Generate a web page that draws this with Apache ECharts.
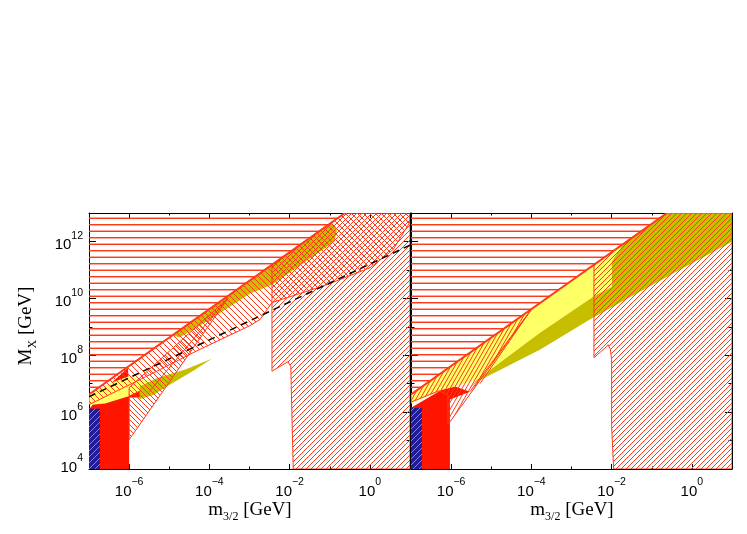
<!DOCTYPE html>
<html>
<head>
<meta charset="utf-8">
<script src="https://cdn.jsdelivr.net/npm/echarts@6/dist/echarts.min.js"></script>
<style>
html, body { margin: 0; padding: 0; background: #fff; }
#chart { width: 747px; height: 534px; }
</style>
</head>
<body>
<div id="chart"></div>
<script>
// 刻度 (log10)
const xMajor = [-6, -4, -2, 0];
const xMinor = [-5, -3, -1];
const yMajor = [4, 6, 8, 10, 12];
const yMinor = [5, 7, 9, 11];

// 两图共用的上边界线 (log10 m32, log10 MX)
const upperLine = [[-7, 6.62], [-0.62, 13]];

// 左图
const leftHoriz = [[-7, 13], [-0.62, 13], [-7, 6.62]];
const leftBand = [[-7, 6.62], [-0.62, 13], [1, 13], [1, 12.69], [0.58, 11.71], [0.01, 11.08], [-1.07, 10.48],
    [-2.44, 9.85], [-2.74, 9.25], [-2.99, 9.04], [-4.36, 8.12], [-5.49, 7.31], [-7, 6.26]];
const leftTri = [[-6.0, 5.03], [-6.0, 6.86], [-3.54, 10.0]];
const leftBig = [[-2.44, 11.18], [-0.62, 13], [1, 13], [1, 4], [-1.91, 4], [-1.96, 6.93], [-1.97, 7.6],
    [-2.01, 7.7], [-2.04, 7.77], [-2.44, 7.44]];
const leftOliveStrip = [[-4.92, 8.70], [-0.95, 12.67], [-0.82, 12.4], [-0.88, 12.0], [-1.74, 11.15],
    [-2.44, 10.48], [-2.99, 10.16], [-3.99, 9.25], [-4.74, 8.62]];
const leftLeaf = [[-5.74, 6.45], [-5.74, 6.9], [-5.3, 7.2], [-4.6, 7.5], [-3.94, 7.88], [-4.4, 7.45], [-5.0, 6.95], [-5.4, 6.6]];
const leftYellow = [[-7, 6.25], [-7, 6.62], [-6.5, 7.0], [-6.03, 7.25], [-5.5, 7.1], [-5.74, 6.75], [-6.03, 6.55], [-6.6, 6.3]];
const leftRed = [[-7, 4], [-7, 6.1], [-6.5, 6.95], [-6.03, 7.55], [-6.0, 6.86], [-5.74, 6.86], [-5.5, 6.72],
    [-5.74, 6.51], [-6.0, 6.51], [-6.0, 4]];
const leftBlue = [[-7, 4], [-7, 6.12], [-6.73, 6.12], [-6.73, 4]];
const leftDash = [[-7, 6.54], [1, 11.87]];
const leftFan = [[-3.54, 10.0], [-5.5, 6.72]];

// 右图
const rightHoriz = [[-7, 13], [-0.62, 13], [-7, 6.62]];
const rightRed = [[-7, 4], [-7, 6.15], [-6.23, 6.79], [-5.9, 6.9], [-5.53, 6.72], [-6.03, 6.44], [-6.03, 4]];
const rightBlue = [[-7, 4], [-7, 6.15], [-6.73, 6.15], [-6.73, 4]];
const rightYellow = [[-7, 6.3], [-7, 6.62], [-2.42, 11.2], [-2.42, 10.1], [-3.79, 8.79], [-5.36, 7.14], [-5.9, 6.9], [-6.23, 6.79]];
const rightOlive = [[-5.53, 6.85], [-5.36, 7.14], [-3.79, 8.79], [-2.42, 10.1], [-2.0, 10.4], [-2.0, 11.3], [-1.7, 11.92],
    [-0.62, 13], [1, 13], [1, 11.99], [-0.38, 10.94], [-2.47, 9.32], [-3.79, 8.19], [-5.36, 7.07]];
const rightYellowPatch = [[-2.42, 11.2], [-1.7, 11.92], [-2.0, 11.3], [-2.0, 10.4], [-2.42, 10.1]];
const rightTri = [[-7, 6.35], [-7, 6.62], [-3.99, 9.63], [-6.08, 5.56], [-6.08, 6.6], [-6.3, 6.75]];
const rightFanA = [[-3.99, 9.63], [-5.53, 6.72]];
const rightFanB = [[-3.99, 9.63], [-5.28, 7.0]];
const rightBig = [[-2.44, 11.18], [-0.62, 13], [1, 13], [1, 4], [-1.95, 4], [-2.0, 5.5], [-2.0, 7.84],
    [-2.03, 8.2], [-2.09, 8.37], [-2.13, 8.3], [-2.44, 7.91]];

const RED = '#ff3a1a';

// 斜线填充
function makeHatch(w, h, dir, color, lw, bg) {
    let c = document.createElement('canvas');
    c.width = w;
    c.height = h;
    let ctx = c.getContext('2d');
    if (bg) {
        ctx.fillStyle = bg;
        ctx.fillRect(0, 0, w, h);
    }
    ctx.strokeStyle = color;
    ctx.lineWidth = lw;
    ctx.beginPath();
    for (let k = -1; k <= 1; k++) {
        if (dir === '/') {
            ctx.moveTo(k * w, h);
            ctx.lineTo(k * w + w, 0);
        } else {
            ctx.moveTo(k * w, 0);
            ctx.lineTo(k * w + w, h);
        }
    }
    ctx.stroke();
    return {image: c, repeat: 'repeat'};
}

// 横线填充
function makeHoriz() {
    let c = document.createElement('canvas');
    c.width = 4;
    c.height = 13;
    let ctx = c.getContext('2d');
    ctx.fillStyle = RED;
    ctx.fillRect(0, 3, 4, 1);
    ctx.fillRect(0, 10, 4, 1);
    ctx.globalAlpha = 0.45;
    ctx.fillRect(0, 4, 4, 1);
    ctx.fillRect(0, 9, 4, 1);
    return {image: c, repeat: 'repeat'};
}

const patHoriz = makeHoriz();
const patSlash = makeHatch(5, 5, '/', RED, 1);
const patBack = makeHatch(6, 6, '\\', RED, 1);
const patBackT = makeHatch(5, 5, '\\', RED, 1);
const patSteep = makeHatch(4, 7, '/', RED, 1);
const patBlue = makeHatch(6, 6, '/', 'rgba(255,110,110,0.9)', 1, '#221c98');

function polySeries(g, pts, style, closed) {
    return {
        type: 'custom',
        xAxisIndex: g * 4,
        yAxisIndex: g * 4,
        silent: true,
        clip: true,
        data: pts,
        encode: {x: 0, y: 1},
        renderItem: function (params, api) {
            if (params.dataIndex !== 0) return;
            let p = pts.map(function (d) { return api.coord(d); });
            return {
                type: closed === false ? 'polyline' : 'polygon',
                shape: {points: p},
                style: style
            };
        }
    };
}

function lineSeries(g, pts, style) {
    return polySeries(g, pts, Object.assign({fill: null}, style), false);
}

function powLabel(v) {
    let s = v < 0 ? '\u2212' + (-v) : String(v);
    // 最底下的 10^4 往上挪一点
    if (v === 4) return '{a|10}{s|' + s + '}\n{e| }';
    return '{a|10}{s|' + s + '}';
}

const labelRich = {
    a: {fontSize: 15, fontFamily: 'Liberation Sans', color: '#000', lineHeight: 22, verticalAlign: 'bottom'},
    s: {fontSize: 10.5, fontFamily: 'Liberation Sans', color: '#000', lineHeight: 12, verticalAlign: 'top'},
    e: {fontSize: 4, lineHeight: 10}
};

function xAxes(g) {
    let base = {type: 'value', gridIndex: g, min: -7, max: 1, splitLine: {show: false}};
    let line = {show: true, onZero: false, lineStyle: {color: '#000', width: 1}};
    return [
        Object.assign({}, base, {
            position: 'bottom', axisLine: line,
            axisTick: {show: true, inside: true, length: 5, customValues: xMajor, lineStyle: {color: '#000'}},
            axisLabel: {show: true, customValues: xMajor, formatter: powLabel, margin: 8, rich: labelRich}
        }),
        Object.assign({}, base, {
            position: 'bottom', axisLine: {show: false, onZero: false},
            axisTick: {show: true, inside: true, length: 2.5, customValues: xMinor, lineStyle: {color: '#000'}},
            axisLabel: {show: false}
        }),
        Object.assign({}, base, {
            position: 'top', axisLine: line,
            axisTick: {show: true, inside: true, length: 5, customValues: xMajor, lineStyle: {color: '#000'}},
            axisLabel: {show: false}
        }),
        Object.assign({}, base, {
            position: 'top', axisLine: {show: false, onZero: false},
            axisTick: {show: true, inside: true, length: 2.5, customValues: xMinor, lineStyle: {color: '#000'}},
            axisLabel: {show: false}
        })
    ];
}

function yAxes(g) {
    let base = {type: 'value', gridIndex: g, min: 4, max: 13, splitLine: {show: false}};
    let line = {show: true, onZero: false, lineStyle: {color: '#000', width: 1}};
    return [
        Object.assign({}, base, {
            position: 'left', axisLine: line,
            axisTick: {show: true, inside: true, length: 7, customValues: yMajor, lineStyle: {color: '#000'}},
            axisLabel: {show: g === 0, customValues: yMajor, formatter: powLabel, margin: 6, rich: labelRich}
        }),
        Object.assign({}, base, {
            position: 'left', axisLine: {show: false, onZero: false},
            axisTick: {show: true, inside: true, length: 3.5, customValues: yMinor, lineStyle: {color: '#000'}},
            axisLabel: {show: false}
        }),
        Object.assign({}, base, {
            position: 'right', axisLine: line,
            axisTick: {show: true, inside: true, length: 7, customValues: yMajor, lineStyle: {color: '#000'}},
            axisLabel: {show: false}
        }),
        Object.assign({}, base, {
            position: 'right', axisLine: {show: false, onZero: false},
            axisTick: {show: true, inside: true, length: 3.5, customValues: yMinor, lineStyle: {color: '#000'}},
            axisLabel: {show: false}
        })
    ];
}

const outline = {stroke: RED, lineWidth: 1};

let series = [
    // 左图
    polySeries(0, leftRed, {fill: '#ff1400'}),
    polySeries(0, leftBlue, {fill: patBlue}),
    polySeries(0, leftYellow, {fill: '#ffff66'}),
    polySeries(0, leftLeaf, {fill: '#c8be00'}),
    polySeries(0, leftOliveStrip, {fill: '#c8be00'}),
    polySeries(0, leftHoriz, {fill: patHoriz}),
    polySeries(0, leftBig, Object.assign({fill: patSlash}, outline)),
    polySeries(0, leftBand, Object.assign({fill: patBack}, outline)),
    polySeries(0, leftTri, Object.assign({fill: patBackT}, outline)),
    lineSeries(0, leftFan, outline),
    lineSeries(0, upperLine, {stroke: RED, lineWidth: 2}),
    lineSeries(0, leftDash, {stroke: '#000', lineWidth: 1.5, lineDash: [7, 5]}),
    // 右图
    polySeries(1, rightRed, {fill: '#ff1400'}),
    polySeries(1, rightBlue, {fill: patBlue}),
    polySeries(1, rightOlive, {fill: '#c8be00'}),
    polySeries(1, rightYellow, {fill: '#ffff66'}),
    polySeries(1, rightYellowPatch, {fill: '#ffff66'}),
    polySeries(1, rightHoriz, {fill: patHoriz}),
    polySeries(1, rightBig, Object.assign({fill: patSlash}, outline)),
    polySeries(1, rightTri, Object.assign({fill: patSteep}, outline)),
    lineSeries(1, rightFanA, outline),
    lineSeries(1, rightFanB, outline),
    lineSeries(1, upperLine, {stroke: RED, lineWidth: 2})
];

const titleRich = {
    a: {fontSize: 19, fontFamily: 'Liberation Serif', color: '#000', lineHeight: 22, verticalAlign: 'top'},
    s: {fontSize: 12, fontFamily: 'Liberation Serif', color: '#000', lineHeight: 12, verticalAlign: 'bottom'}
};

let chart = echarts.init(document.getElementById('chart'), null, {renderer: 'canvas'});
chart.setOption({
    animation: false,
    backgroundColor: '#fff',
    grid: [
        {left: 89, top: 213, width: 321, height: 256, outerBoundsMode: 'none', containLabel: false},
        {left: 411, top: 213, width: 321, height: 256, outerBoundsMode: 'none', containLabel: false}
    ],
    xAxis: xAxes(0).concat(xAxes(1)),
    yAxis: yAxes(0).concat(yAxes(1)),
    series: series,
    graphic: [
        {type: 'text', silent: true, style: {text: '{a|m}{s|3/2}{a| [GeV]}', rich: titleRich, x: 250, y: 512, align: 'center', verticalAlign: 'middle'}},
        {type: 'text', silent: true, style: {text: '{a|m}{s|3/2}{a| [GeV]}', rich: titleRich, x: 572, y: 512, align: 'center', verticalAlign: 'middle'}},
        {type: 'text', silent: true, x: 28, y: 326, rotation: Math.PI / 2,
            style: {text: '{a|M}{s|X}{a| [GeV]}', rich: titleRich, x: 0, y: 0, align: 'center', verticalAlign: 'middle'}}
    ]
});
</script>
</body>
</html>
